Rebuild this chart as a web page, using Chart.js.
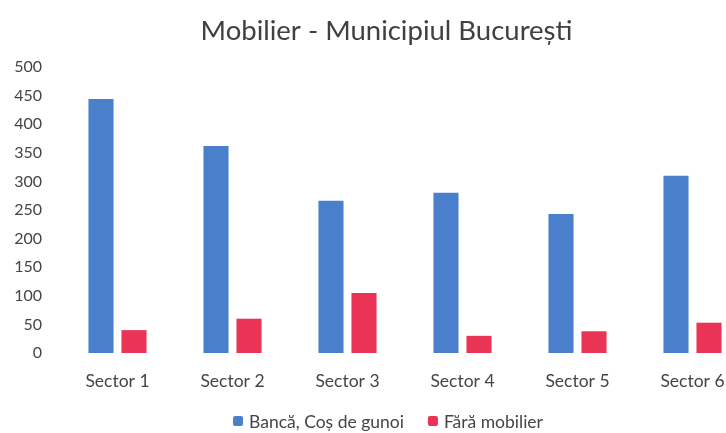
<!DOCTYPE html>
<html>
<head>
<meta charset="utf-8">
<script src="https://cdn.jsdelivr.net/npm/chart.js@4"></script>
<style>
  html, body { margin: 0; padding: 0; background: #fff; overflow: hidden; }
  #wrap { width: 770px; height: 433px; }
</style>
</head>
<body>
<div id="wrap"><canvas id="chart" width="770" height="433"></canvas></div>
<script>
// ===== Data =====
const sectors = ['Sector 1', 'Sector 2', 'Sector 3', 'Sector 4', 'Sector 5', 'Sector 6'];
const bancaCos = [444, 362, 266, 280, 243, 310];
const faraMobilier = [40, 60, 105, 30, 38, 53];
const seriesNames = ['Bancă, Coș de gunoi', 'Fără mobilier'];

const BLUE = '#4a7fcc';
const RED = '#e93455';
const TEXT = '#454545';
const FONT = 'Lato, "Open Sans", sans-serif';

// ===== Legend (drawn by hand so the item spacing matches) =====
const LEGEND_Y = 421;
const LEGEND_CX = 388;
const bottomLegend = {
  id: 'bottomLegend',
  afterLayout(chart) {
    // the original title sits a bit right of the canvas centre
    if (chart.titleBlock) chart.titleBlock.left += 23;
  },
  afterDraw(chart) {
    const ctx = chart.ctx;
    ctx.save();
    ctx.font = '17.5px ' + FONT;
    ctx.textBaseline = 'middle';
    const box = 10, gap = 6, itemGap = 24;
    const items = chart.data.datasets.map(ds => ({
      text: ds.label, color: ds.backgroundColor, w: box + gap + ctx.measureText(ds.label).width
    }));
    const total = items.reduce((s, it) => s + it.w, 0) + itemGap * (items.length - 1);
    let x = LEGEND_CX - total / 2;
    items.forEach(it => {
      ctx.fillStyle = it.color;
      ctx.beginPath();
      ctx.roundRect(x, LEGEND_Y - box / 2, box, box, 2);
      ctx.fill();
      ctx.fillStyle = TEXT;
      ctx.fillText(it.text, x + box + gap, LEGEND_Y + 1);
      x += it.w + itemGap;
    });
    ctx.restore();
  }
};

new Chart(document.getElementById('chart').getContext('2d'), {
  type: 'bar',
  data: {
    labels: sectors,
    datasets: [
      { label: seriesNames[0], data: bancaCos, backgroundColor: BLUE,
        categoryPercentage: 0.574, barPercentage: 0.76 },
      { label: seriesNames[1], data: faraMobilier, backgroundColor: RED,
        categoryPercentage: 0.574, barPercentage: 0.76 }
    ]
  },
  options: {
    responsive: false,
    animation: false,
    layout: { padding: { left: 0, right: 20, bottom: 23 } },
    scales: {
      x: {
        grid: { display: false, drawTicks: false },
        border: { display: false },
        ticks: { color: TEXT, font: { family: FONT, size: 17.5 }, padding: 18, maxRotation: 0 }
      },
      y: {
        min: 0,
        max: 500,
        grid: { display: false, drawTicks: false },
        border: { display: false },
        afterFit: s => { s.width = 60; },
        ticks: { stepSize: 50, color: TEXT, font: { family: FONT, size: 16 }, padding: 18 }
      }
    },
    plugins: {
      title: {
        display: true,
        text: 'Mobilier - Municipiul București',
        color: '#404040',
        font: { family: FONT, size: 27.5, weight: 'normal' },
        padding: { top: 15, bottom: 19 }
      },
      legend: { display: false },
      tooltip: { enabled: false }
    }
  },
  plugins: [bottomLegend]
});
</script>
</body>
</html>
